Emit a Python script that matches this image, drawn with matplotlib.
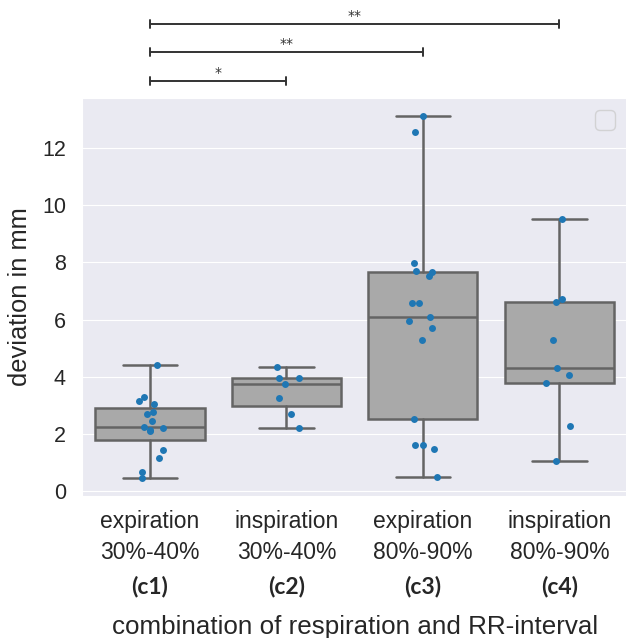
import numpy as np
import matplotlib
matplotlib.use("Agg")
import matplotlib.pyplot as plt
import matplotlib.transforms as mtransforms
import seaborn as sns

# categories on the x axis
groups = ["expiration\n30%-40%", "inspiration\n30%-40%",
          "expiration\n80%-90%", "inspiration\n80%-90%"]
group_ids = ["(c1)", "(c2)", "(c3)", "(c4)"]

# deviation in mm per group, with the strip jitter (in category units)
c1_dev = [4.41, 3.29, 3.15, 3.07, 2.79, 2.72, 2.45, 2.26, 2.13, 2.12, 2.21, 1.44, 1.15, 0.67, 0.46]
c1_jit = [0.054, -0.041, -0.080, 0.027, 0.020, -0.019, 0.012, -0.046, 0.0, 0.004, 0.093, 0.093, 0.066, -0.056, -0.061]

c2_dev = [4.35, 3.97, 3.97, 3.76, 3.27, 2.70, 2.23]
c2_jit = [-0.068, -0.051, 0.095, -0.012, -0.051, 0.037, 0.090]

c3_dev = [13.11, 12.55, 7.96, 7.70, 7.65, 7.53, 6.57, 6.59, 5.96, 6.08, 5.72, 5.30, 2.54, 1.62, 1.63, 1.47, 0.52]
c3_jit = [0.004, -0.061, -0.066, -0.051, 0.070, 0.048, -0.083, -0.029, -0.102, 0.053, 0.070, -0.007, -0.066, -0.056, 0.0, 0.081, 0.100]

c4_dev = [9.51, 6.73, 6.62, 5.30, 4.31, 4.05, 3.80, 2.28, 1.06]
c4_jit = [0.022, 0.018, -0.022, -0.048, -0.015, 0.073, -0.095, 0.078, -0.026]

# significance brackets: (from group, to group) and mark
sig_pairs = [(0, 1), (0, 2), (0, 3)]
sig_marks = ["*", "**", "**"]

devs = [c1_dev, c2_dev, c3_dev, c4_dev]
jits = [c1_jit, c2_jit, c3_jit, c4_jit]

sns.set_style("darkgrid")
plt.rcParams['font.family'] = ['Liberation Sans', 'DejaVu Sans']
text_col = '.15'

fig = plt.figure(figsize=(6.26, 6.38), dpi=100)
ax = fig.add_axes([0.1305, 0.222, 0.872, 0.6246])

line_col = '#646464'
lw = 1.8
ax.boxplot(devs, positions=range(len(groups)), widths=0.8, patch_artist=True,
           showfliers=False, whis=1.5,
           boxprops=dict(facecolor='#a9a9a9', edgecolor=line_col, linewidth=lw),
           medianprops=dict(color=line_col, linewidth=lw),
           whiskerprops=dict(color=line_col, linewidth=lw),
           capprops=dict(color=line_col, linewidth=lw), zorder=2)

for i, (d, j) in enumerate(zip(devs, jits)):
    ax.scatter(i + np.array(j), d, s=25, color='#1f77b4', linewidths=0, zorder=3)

ax.set_xlim(-0.5, 3.5)
ax.margins(y=0.05)
ax.autoscale_view()
ax.set_ylim(ax.get_ylim())
ax.set_yticks([0, 2, 4, 6, 8, 10, 12])

ax.xaxis.grid(False)
ax.set_xticks(range(len(groups)))
ax.set_xticklabels(groups, fontsize=16.5, color=text_col, linespacing=1.42)
ax.tick_params(axis='x', length=0, pad=10)
ax.tick_params(axis='y', length=0, pad=11.3, labelsize=15.5, labelcolor=text_col)

ax.set_ylabel("deviation in mm", fontsize=18.4, color=text_col)
ax.yaxis.set_label_coords(-0.091, 0.5)

# bold group ids under the tick labels
id_trans = mtransforms.blended_transform_factory(ax.transData, fig.transFigure)
for i, gid in enumerate(group_ids):
    ax.text(i, 0.0815, gid, transform=id_trans, ha='center', va='center',
            fontsize=16.5, fontweight='bold', family=['Lato', 'DejaVu Sans'],
            color=text_col)

fig.text(0.5666, 0.0172, "combination of respiration and RR-interval",
         ha='center', va='center', fontsize=18.7, color=text_col)

ax.legend(handles=[], loc='upper right', fontsize=18)

# significance brackets above the axes
top = ax.get_ylim()[1]
for k, ((a, b), mark) in enumerate(zip(sig_pairs, sig_marks)):
    y = top + 0.6 + k * 0.995
    tick = 0.14
    ax.plot([a, b], [y, y], color='#333333', lw=1.4, clip_on=False, scalex=False, scaley=False)
    for xx in (a, b):
        ax.plot([xx, xx], [y - tick, y + tick], color='#333333', lw=1.4,
                clip_on=False, scalex=False, scaley=False)
    ax.text((a + b) / 2, y + 0.04, mark, ha='center', va='bottom', fontsize=10,
            family='DejaVu Sans', color='#333333', clip_on=False)

fig.savefig("out.png", dpi=100)
